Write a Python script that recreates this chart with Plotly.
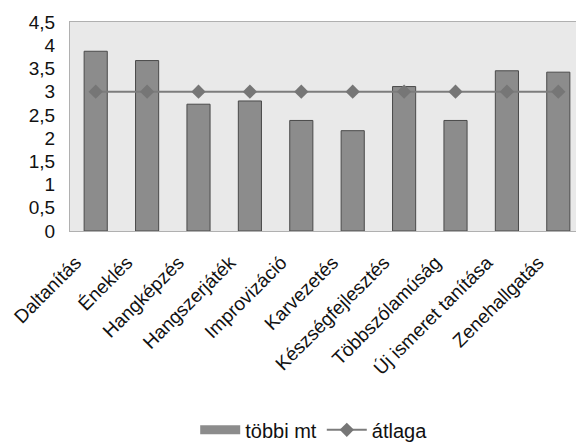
import plotly.graph_objects as go

categories = ["Daltanítás", "Éneklés", "Hangképzés", "Hangszerjáték", "Improvizáció",
              "Karvezetés", "Készségfejlesztés", "Többszólamúság", "Új ismeret tanítása", "Zenehallgatás"]
tobbi_mt = [3.87, 3.67, 2.73, 2.80, 2.38, 2.16, 3.11, 2.38, 3.45, 3.42]
atlaga = [3.0, 3.0, 3.0, 3.0, 3.0, 3.0, 3.0, 3.0, 3.0, 3.0]
y_ticks = [0, 0.5, 1, 1.5, 2, 2.5, 3, 3.5, 4, 4.5]
y_tick_labels = ["0", "0,5", "1", "1,5", "2", "2,5", "3", "3,5", "4", "4,5"]

font_family = "Liberation Sans, Arial, sans-serif"
bar_color = "#8c8c8c"

fig = go.Figure()
fig.add_trace(go.Bar(
    x=categories, y=tobbi_mt, name="többi mt", showlegend=False,
    marker=dict(color=bar_color, line=dict(color="#4a4a4a", width=1)),
))
# legend-only entry drawn as a wide grey block, like the reference legend key
fig.add_trace(go.Scatter(
    x=[None], y=[None], name="többi mt", mode="lines",
    line=dict(color=bar_color, width=9),
))
fig.add_trace(go.Scatter(
    x=categories, y=atlaga, name="átlaga", mode="lines+markers",
    line=dict(color="#7c7c7c", width=2),
    marker=dict(symbol="diamond", size=11, color="#767676"),
))

fig.update_layout(
    width=576, height=434,
    margin=dict(l=62, r=0, t=14, b=211, autoexpand=False),
    paper_bgcolor="white",
    plot_bgcolor="#e9e9e9",
    bargap=0.55,
    font=dict(family=font_family, color="#111111"),
    showlegend=True,
    legend=dict(orientation="h", xref="container", yref="container",
                x=0.325, xanchor="left", y=0.028, yanchor="middle",
                font=dict(size=20, family=font_family), itemwidth=40,
                tracegroupgap=0),
    xaxis=dict(
        range=[-0.5, 9.5], tickangle=-45, tickfont=dict(size=19, family=font_family),
        showgrid=False, showline=True, linecolor="#b0b0b0", mirror=True,
        ticks="", ticklabelshift=-20, ticklabelstandoff=12, automargin=False,
    ),
    yaxis=dict(
        range=[0, 4.5], tickvals=y_ticks, ticktext=y_tick_labels,
        tickfont=dict(size=19, family=font_family), showgrid=False,
        showline=True, linecolor="#b0b0b0", mirror=True, ticks="", ticklabelstandoff=10,
        zeroline=False, automargin=False,
    ),
)

fig.write_html("out.html")
